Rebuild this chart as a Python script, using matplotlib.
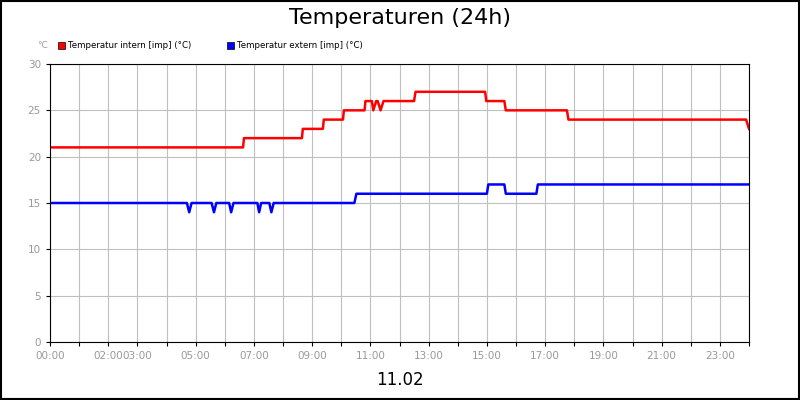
import matplotlib
matplotlib.use("Agg")
import matplotlib.pyplot as plt
from matplotlib.patches import Rectangle

# hours, values
t_in = [0, 6.63, 6.66, 8.65, 8.68, 9.37, 9.40, 10.06, 10.09, 10.80, 10.83, 11.05, 11.1, 11.2, 11.25, 11.35, 11.45, 11.55, 11.6, 12.5, 12.55, 14.94, 14.98, 15.6, 15.65, 17.75, 17.8, 23.9, 24.0]
v_in = [21, 21, 22, 22, 23, 23, 24, 24, 25, 25, 26, 26, 25, 26, 26, 25, 26, 26, 26, 26, 27, 27, 26, 26, 25, 25, 24, 24, 23]
t_ex = [0, 4.70, 4.78, 4.86, 5.55, 5.63, 5.71, 6.15, 6.22, 6.30, 7.12, 7.18, 7.25, 7.53, 7.60, 7.68, 10.45, 10.52, 15.0, 15.05, 15.6, 15.65, 16.7, 16.75, 24.0]
v_ex = [15, 15, 14, 15, 15, 14, 15, 15, 14, 15, 15, 14, 15, 15, 14, 15, 15, 16, 16, 17, 17, 16, 16, 17, 17]
xtick_pos = [0, 2, 3, 5, 7, 9, 11, 13, 15, 17, 19, 21, 23]
xtick_lab = ["00:00", "02:00", "03:00", "05:00", "07:00", "09:00", "11:00", "13:00", "15:00", "17:00", "19:00", "21:00", "23:00"]
yticks = [0, 5, 10, 15, 20, 25, 30]

fig = plt.figure(figsize=(8, 4), dpi=100)
fig.patch.set_facecolor("white")
fig.add_artist(Rectangle((0.001, 0.002), 0.998, 0.996, transform=fig.transFigure, fill=False, edgecolor="black", lw=1.5))
ax = fig.add_axes([50/800, 58/400, 699/800, 278/400])
ax.plot(t_in, v_in, color="#ff0000", lw=1.8)
ax.plot(t_ex, v_ex, color="#0000ff", lw=1.8)
ax.set_xlim(0, 24)
ax.set_ylim(0, 30)
ax.set_xticks(range(0, 25), minor=False)
ax.set_xticklabels([xtick_lab[xtick_pos.index(h)] if h in xtick_pos else "" for h in range(0, 25)])
ax.set_yticks(yticks)
ax.grid(True, color="#c0c0c0", lw=0.8)
ax.tick_params(labelsize=7.5, colors="#999999", length=3)
ax.tick_params(axis="both", color="black")
for s in ax.spines.values():
    s.set_color("black")
fig.text(0.5, 0.955, "Temperaturen (24h)", ha="center", va="center", fontsize=16)
fig.text(0.5, 0.05, "11.02", ha="center", va="center", fontsize=12)
fig.text(37/800, 0.885, "°C", fontsize=6.5, color="#999999", va="center")
fig.add_artist(Rectangle((58/800, 351/400), 7/800, 7/400, transform=fig.transFigure, facecolor="#ff0000", edgecolor="black", lw=0.5))
fig.text(68/800, 354.5/400, "Temperatur intern [imp] (°C)", fontsize=6.2, va="center")
fig.add_artist(Rectangle((227/800, 351/400), 7/800, 7/400, transform=fig.transFigure, facecolor="#0000ff", edgecolor="black", lw=0.5))
fig.text(237/800, 354.5/400, "Temperatur extern [imp] (°C)", fontsize=6.2, va="center")
fig.savefig("out.png", dpi=100)
